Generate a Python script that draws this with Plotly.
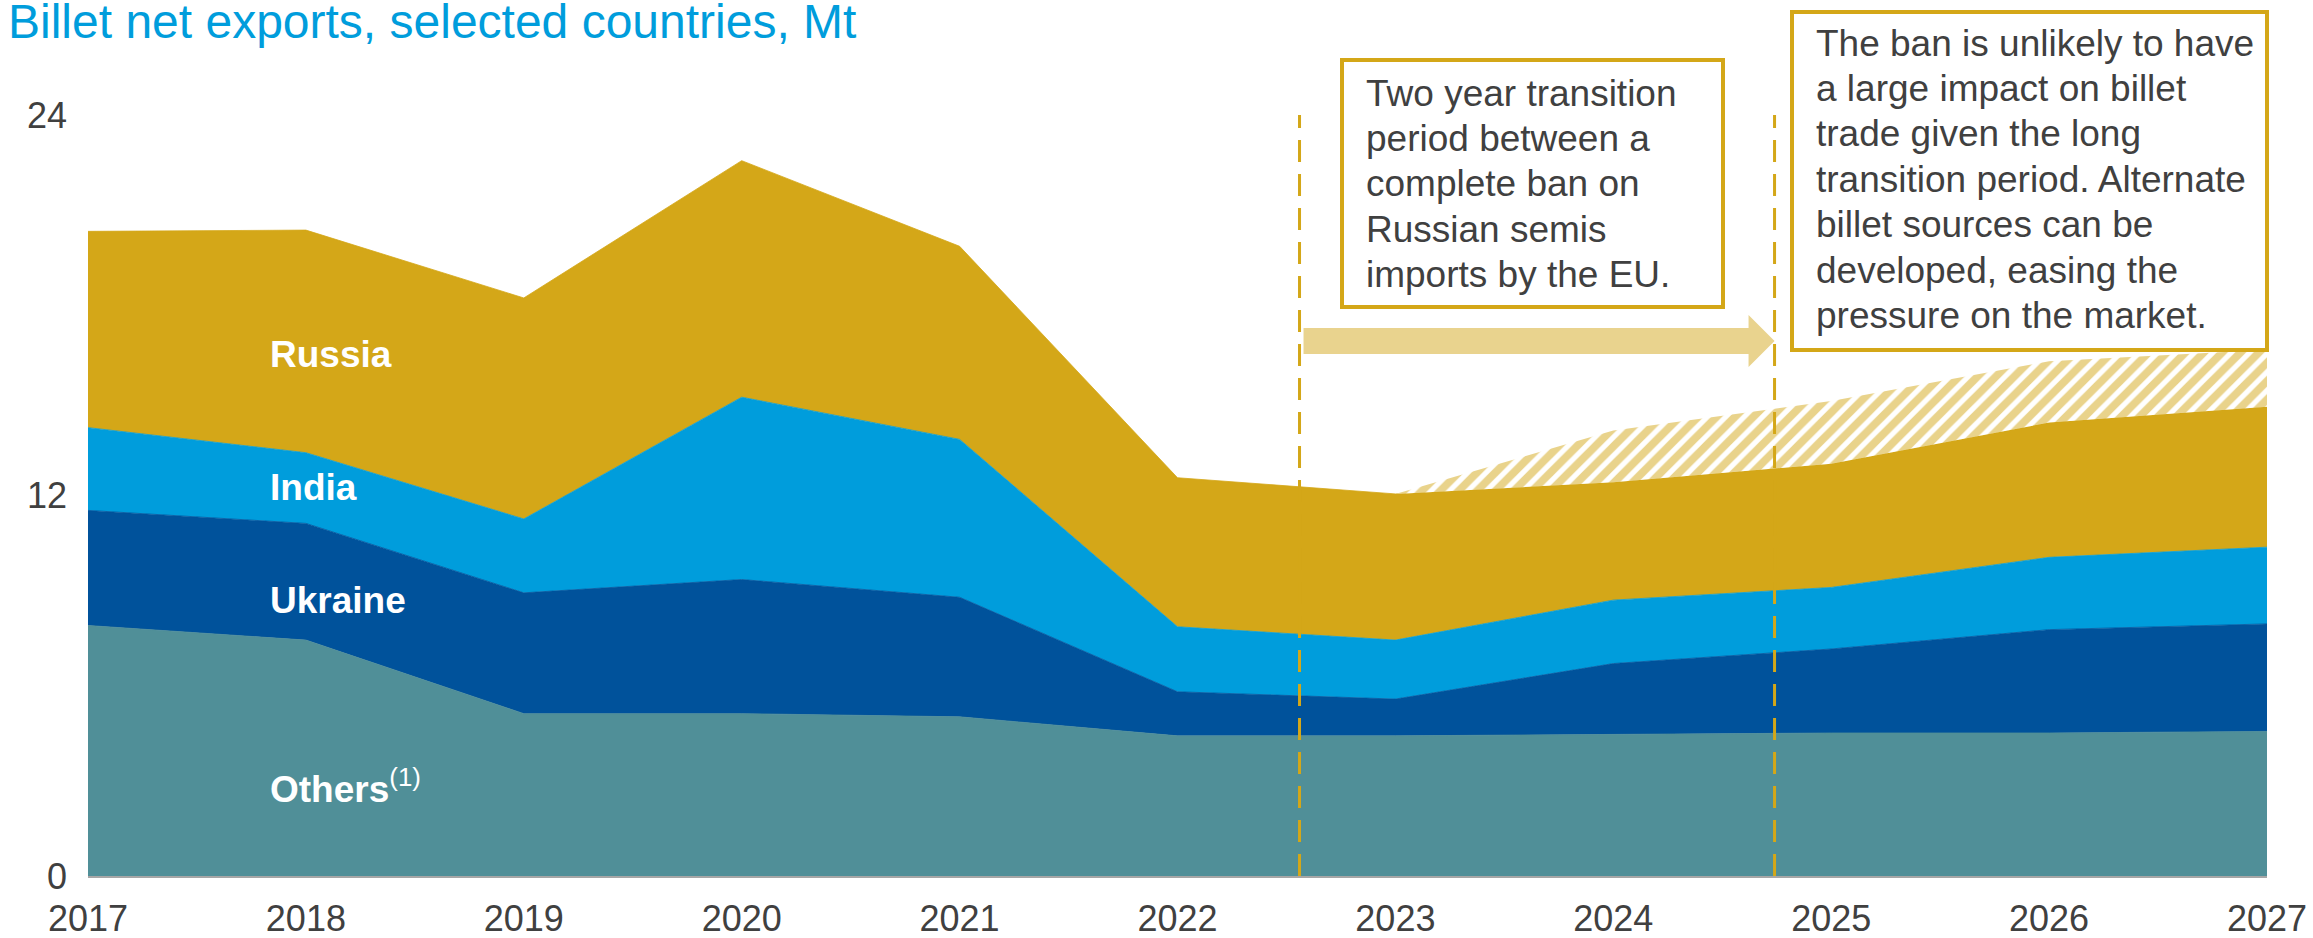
import numpy as np
import plotly.graph_objects as go

# ---------------- data (Mt) ----------------
years = list(range(2017, 2028))
others = [7.90, 7.44, 5.12, 5.12, 5.02, 4.42, 4.42, 4.47, 4.51, 4.51, 4.56]
ukraine = [3.63, 3.68, 3.81, 4.23, 3.77, 1.39, 1.16, 2.23, 2.65, 3.26, 3.39]
india = [2.61, 2.23, 2.33, 5.75, 4.98, 2.05, 1.86, 2.00, 1.94, 2.28, 2.42]
russia = [6.19, 7.02, 6.97, 7.46, 6.09, 4.70, 4.61, 3.72, 3.90, 4.25, 4.43]

# additional Russian volumes without the ban (hatched band)
outlook_years = [2023, 2024, 2025, 2026, 2027]
russia_extra = [0.00, 1.63, 1.98, 1.93, 1.80]

# transition period bounds (dashed markers)
ban_start = 2022.56
ban_end = 2024.74

y_ticks = [0, 12, 24]

# ---------------- style ----------------
GOLD = "#D4A718"
GOLD_LIGHT = "#E9D38E"
TEAL = "#508F98"
DARK_BLUE = "#00529B"
LIGHT_BLUE = "#009DDC"
TEXT = "#404040"
FONT = "Liberation Sans, Arial, sans-serif"

W, H = 2313, 938
ML, MR, MT, MB = 88, 46, 115, 62
PW, PH = W - ML - MR, H - MT - MB


def xp(px):
    """pixel x -> paper x"""
    return (px - ML) / PW


def yp(py):
    """pixel y -> paper y"""
    return (H - MB - py) / PH


def dx(px_len):
    """pixel length -> years"""
    return px_len / PW * (years[-1] - years[0])


def dy(px_len):
    """pixel length -> Mt"""
    return px_len / PH * (y_ticks[-1] - y_ticks[0])


# cumulative stack
c_others = np.array(others)
c_ukraine = c_others + np.array(ukraine)
c_india = c_ukraine + np.array(india)
c_russia = c_india + np.array(russia)
idx = [years.index(y) for y in outlook_years]
base_outlook = c_russia[idx]
top_outlook = base_outlook + np.array(russia_extra)

fig = go.Figure()
for ys, col, fill in [
    (c_others, TEAL, "tozeroy"),
    (c_ukraine, DARK_BLUE, "tonexty"),
    (c_india, LIGHT_BLUE, "tonexty"),
    (c_russia, GOLD, "tonexty"),
]:
    fig.add_trace(go.Scatter(
        x=years, y=ys, mode="lines", fill=fill, fillcolor=col,
        line=dict(color=col, width=0.8), hoverinfo="skip", showlegend=False,
    ))

fig.add_trace(go.Scatter(
    x=outlook_years, y=base_outlook, mode="lines",
    line=dict(width=0, color=GOLD), hoverinfo="skip", showlegend=False,
))
fig.add_trace(go.Scatter(
    x=outlook_years, y=top_outlook, mode="lines", fill="tonexty",
    fillcolor="white",
    fillpattern=dict(shape="/", fgcolor=GOLD, bgcolor="white", size=13, solidity=0.6),
    line=dict(width=0, color=GOLD), hoverinfo="skip", showlegend=False,
))

shapes = []
# dashed transition markers
for xv in (ban_start, ban_end):
    shapes.append(dict(type="line", xref="x", yref="paper", x0=xv, x1=xv, y0=0, y1=1,
                       line=dict(color=GOLD, width=3, dash="22px,12px"), layer="above"))

# arrow across the transition period
yc = dy(876 - 341)
half_shaft, half_head, head_len = dy(13), dy(26), dx(26)
x0, x2 = ban_start + dx(4), ban_end
x1 = x2 - head_len
arrow = (f"M{x0},{yc - half_shaft} L{x1},{yc - half_shaft} L{x1},{yc - half_head} "
         f"L{x2},{yc} L{x1},{yc + half_head} L{x1},{yc + half_shaft} L{x0},{yc + half_shaft} Z")
shapes.append(dict(type="path", xref="x", yref="y", path=arrow,
                   fillcolor=GOLD_LIGHT, line=dict(width=0), layer="above"))

# callout boxes
for (l, t, r, b) in [(1342, 60, 1723, 307), (1792, 12, 2267, 350)]:
    shapes.append(dict(type="rect", xref="paper", yref="paper",
                       x0=xp(l), x1=xp(r), y0=yp(b), y1=yp(t),
                       fillcolor="rgba(255,255,255,0.88)",
                       line=dict(color=GOLD, width=4), layer="above"))

annotations = []
box1_lines = ["Two year transition", "period between a", "complete ban on",
              "Russian semis", "imports by the EU."]
box2_lines = ["The ban is unlikely to have", "a large impact on billet",
              "trade given the long", "transition period. Alternate",
              "billet sources can be", "developed, easing the",
              "pressure on the market."]
for lines, left, first in [(box1_lines, 1364, 93), (box2_lines, 1814, 43)]:
    for i, txt in enumerate(lines):
        annotations.append(dict(
            xref="paper", yref="paper", x=xp(left), y=yp(first + i * 45.4),
            xanchor="left", yanchor="middle", text=txt, showarrow=False,
            font=dict(family=FONT, size=37, color=TEXT)))

# series labels
for txt, ypx in [("<b>Russia</b>", 354), ("<b>India</b>", 487),
                 ("<b>Ukraine</b>", 600), ("<b>Others</b><sup>(1)</sup>", 786)]:
    annotations.append(dict(
        xref="paper", yref="paper", x=xp(268), y=yp(ypx),
        xanchor="left", yanchor="middle", text=txt, showarrow=False,
        font=dict(family=FONT, size=37, color="white")))

# chart title
annotations.append(dict(
    xref="paper", yref="paper", x=xp(6), y=yp(22),
    xanchor="left", yanchor="middle", showarrow=False,
    text="Billet net exports, selected countries, Mt",
    font=dict(family=FONT, size=48, color=LIGHT_BLUE)))

fig.update_layout(
    width=W, height=H,
    margin=dict(l=ML, r=MR, t=MT, b=MB, autoexpand=False),
    paper_bgcolor="white", plot_bgcolor="white",
    showlegend=False,
    font=dict(family=FONT, color=TEXT),
    shapes=shapes, annotations=annotations,
)
fig.update_xaxes(
    range=[years[0], years[-1]], tickvals=years, ticktext=[str(y) for y in years],
    tickfont=dict(size=36, color=TEXT), showgrid=False, zeroline=False,
    showline=True, linecolor="#A6A6A6", linewidth=2, ticks="",
    ticklabelstandoff=10, automargin=False,
)
fig.update_yaxes(
    range=[y_ticks[0], y_ticks[-1]], tickvals=y_ticks,
    tickfont=dict(size=36, color=TEXT), showgrid=True, gridcolor="#BFBFBF",
    gridwidth=2, zeroline=False, ticks="", ticklabelstandoff=20, automargin=False,
)

fig.write_html("out.html")
